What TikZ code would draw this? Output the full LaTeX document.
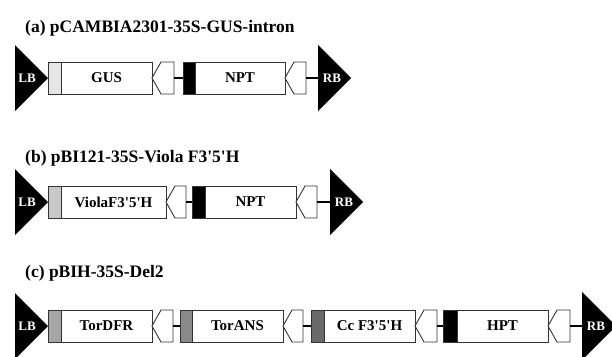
\documentclass[tikz,border=0pt]{standalone}
\usepackage{fontspec}
\setmainfont{Liberation Serif}
\definecolor{stripA}{HTML}{E6E6E6}
\definecolor{stripB}{HTML}{C8C8C8}
\definecolor{stripC}{HTML}{A6A6A6}
\definecolor{stripD}{HTML}{8A8A8A}
\definecolor{stripE}{HTML}{6A6A6A}
\definecolor{edge}{HTML}{333333}
\newcommand\q{\textquotesingle}
% \gene{strip name}{box name}{left}{strip right}{right}{y}{strip colour}{label}
\newcommand\gene[8]{%
  \node[stripbox, fill=#7, minimum width={(#4-#3)*1pt}] (#1) at ({(#3+#4)/2},#6) {};
  \node[genebox, minimum width={(#5-#4)*1pt}] (#2) at ({(#4+#5)/2},#6) {#8};
}
% \termin{name}{left}{right}{y}
\newcommand\termin[4]{%
  \draw[termbox] (#2,#4) -- (#2+9,#4-16) -- (#3,#4-16) -- (#3,#4+16) -- (#2+9,#4+16) -- cycle;
  \coordinate (#1) at (#3,#4);
}
\begin{document}
\begin{tikzpicture}[x=1pt,y=-1pt,
  genebox/.style={draw=edge, line width=0.9pt, minimum height=32pt, inner sep=0pt, fill=white,
    font=\fontsize{15}{17}\selectfont\bfseries},
  stripbox/.style={draw=edge, line width=0.9pt, minimum height=32pt, inner sep=0pt},
  termbox/.style={draw=edge, line width=0.9pt, fill=white, line join=miter},
  link/.style={line width=2.6pt, black},
  border/.style={fill=black},
  blabel/.style={text=white, inner sep=0pt, font=\fontsize{13}{15}\selectfont\bfseries},
  title/.style={anchor=base west, inner sep=0pt, font=\fontsize{17.5}{20}\selectfont\bfseries}]
\useasboundingbox (0,0) rectangle (612,356);

% ---------- (a) ----------
\node[title] (ta) at (25,32) {(a) pCAMBIA2301-35S-GUS-intron};
\fill[border] (15,45) -- (15,111) -- (48,78) -- cycle;
\node[blabel] (lbA) at (27,78) {LB};
\coordinate (rbA) at (318,78);
\fill[border] (318,45) -- (318,111) -- (351,78) -- cycle;
\node[blabel] (rbAl) at (332,78) {RB};
\gene{gusS}{gus}{48}{61}{152}{78}{stripA}{GUS}
\termin{tA1}{152}{174}{78}
\gene{nptaS}{npta}{183}{195}{285}{78}{black}{NPT}
\termin{tA2}{285}{306}{78}
\draw[link] (tA1) -- (nptaS.west);
\draw[link] (tA2) -- (rbA);

% ---------- (b) ----------
\node[title] (tb) at (25,162) {(b) pBI121-35S-Viola F3\q5\q H};
\fill[border] (15,169) -- (15,235) -- (48,202) -- cycle;
\node[blabel] (lbB) at (27,202) {LB};
\coordinate (rbB) at (330,202);
\fill[border] (330,169) -- (330,235) -- (363,202) -- cycle;
\node[blabel] (rbBl) at (344,202) {RB};
\gene{violaS}{viola}{48}{61}{166}{202}{stripB}{ViolaF3\q5\q H}
\termin{tB1}{166}{186}{202}
\gene{nptbS}{nptb}{192}{205}{296}{202}{black}{NPT}
\termin{tB2}{296}{317}{202}
\draw[link] (tB1) -- (nptbS.west);
\draw[link] (tB2) -- (rbB);

% ---------- (c) ----------
\node[title] (tc) at (25,277) {(c) pBIH-35S-Del2};
\fill[border] (15,293) -- (15,359) -- (48,326) -- cycle;
\node[blabel] (lbC) at (27,326) {LB};
\coordinate (rbC) at (582,326);
\fill[border] (582,292) -- (582,360) -- (616,326) -- cycle;
\node[blabel] (rbCl) at (596,326) {RB};
\gene{dfrS}{dfr}{48}{61}{152}{326}{stripC}{TorDFR}
\termin{tC1}{152}{173}{326}
\gene{ansS}{ans}{180}{192}{283}{326}{stripD}{TorANS}
\termin{tC2}{283}{303}{326}
\gene{ccS}{cc}{311}{324}{415}{326}{stripE}{Cc F3\q5\q H}
\termin{tC3}{415}{437}{326}
\gene{hptS}{hpt}{443}{457}{548}{326}{black}{HPT}
\termin{tC4}{548}{570}{326}
\draw[link] (tC1) -- (ansS.west);
\draw[link] (tC2) -- (ccS.west);
\draw[link] (tC3) -- (hptS.west);
\draw[link] (tC4) -- (rbC);
\end{tikzpicture}
\end{document}
